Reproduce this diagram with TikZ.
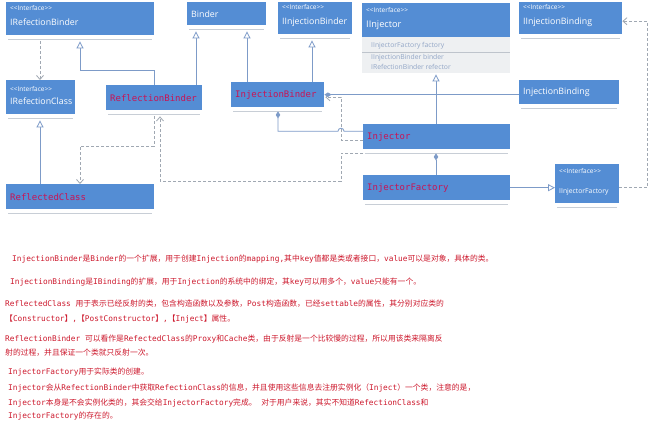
\documentclass[tikz,border=0pt]{standalone}
\usepackage{fontspec}
\setmainfont{Open Sans}
\setmonofont{DejaVu Sans Mono}
\newfontfamily\cjk{Noto Sans CJK SC}
\usetikzlibrary{arrows.meta,calc}
\definecolor{boxblue}{RGB}{84,141,212}
\definecolor{ulinecol}{RGB}{200,206,214}
\definecolor{lineblue}{RGB}{125,155,200}
\definecolor{dashgray}{RGB}{160,168,178}
\definecolor{redtxt}{RGB}{200,20,85}
\definecolor{notered}{RGB}{205,25,45}
\definecolor{graytxt}{RGB}{145,165,198}
\definecolor{grayfill}{RGB}{238,240,242}
\definecolor{sepgray}{RGB}{190,196,204}
\newcommand\zh[1]{{\cjk #1}}
\newcommand\intf{{\fontsize{6.5}{7}\selectfont <{}<Interface>{}>}}
\newcommand\ubox[7]{%
  \node[box, minimum width=#4, minimum height=#5] (#1) at (#2,#3) {};
  \draw[uline] ($(#1.south west)+(2,4)$) -- ($(#1.south east)+(-2,4)$);
  \node[#6] (#1-t) at ($(#1.west)+(4,0)$) {#7};}
\begin{document}
\begin{tikzpicture}[x=1pt,y=-1pt,
  box/.style={fill=boxblue, anchor=north west, inner sep=0pt, draw=none},
  uline/.style={draw=ulinecol, line width=1.6pt},
  itxt/.style={anchor=west, inner sep=0pt, text=white, align=left, font=\fontsize{8.8}{11}\selectfont},
  rtxt/.style={anchor=west, inner sep=0pt, text=redtxt, font=\ttfamily\fontsize{9}{10}\selectfont},
  mtxt/.style={anchor=base west, inner sep=0pt, text=graytxt, font=\fontsize{6.8}{7}\selectfont},
  real/.style={draw=lineblue, line width=0.8pt, -{Triangle[length=7pt, width=7pt, fill=white]}},
  dep/.style={draw=dashgray, line width=0.8pt, dash pattern=on 3pt off 2pt, -{Straight Barb[length=4pt, width=7pt]}},
  comp/.style={draw=lineblue, line width=0.8pt, -{Diamond[length=7pt, width=4.5pt, fill=lineblue]}},
  note/.style={anchor=base west, inner sep=0pt, text=notered, font=\ttfamily\fontsize{7.8}{9}\selectfont}]
\fill[white] (0,0) rectangle (650,426);
\useasboundingbox (0,0) rectangle (650,426);

% boxes
\ubox{irb}{6}{2}{148}{33}{itxt, yshift=3pt}{\intf\\[4pt]IRefectionBinder}
\ubox{bnd}{187}{2}{79}{23}{itxt}{Binder}
\ubox{iib}{278}{2}{74}{32}{itxt, yshift=2.5pt}{\intf\\[4pt]IInjectionBinder}
\ubox{iibg}{519}{2}{103}{32}{itxt, yshift=2.5pt}{\intf\\[4pt]IInjectionBinding}
\ubox{ibg}{519}{80}{100}{24}{itxt}{InjectionBinding}
\ubox{irc}{6}{80}{69}{34}{itxt, yshift=2pt}{\intf\\[2pt]IRefectionClass}
\ubox{rb}{106}{85}{96}{25}{rtxt}{ReflectionBinder}
\ubox{ib}{231}{82}{93}{25}{rtxt}{InjectionBinder}
\ubox{inj}{363}{124}{147}{25}{rtxt}{Injector}
\ubox{injf}{363}{175}{147}{25}{rtxt}{InjectorFactory}
\ubox{rc}{6}{184}{148}{25}{rtxt}{ReflectedClass}
\ubox{iif}{555}{164}{64}{39}{itxt, yshift=1.5pt, font=\fontsize{6.8}{8}\selectfont}{\intf\\[12pt]IInjectorFactory}

% IInjector with member compartment
\node[box, minimum width=148, minimum height=34] (iinj) at (362,3) {};
\node[box, fill=grayfill, minimum width=148, minimum height=36] (iinjg) at (362,37) {};
\draw[sepgray, line width=0.6pt] ($(iinjg.north west)+(0,15)$) -- ($(iinjg.north east)+(0,15)$);
\node[itxt, yshift=1.5pt, font=\fontsize{9.2}{11}\selectfont] (iinj-t) at ($(iinj.west)+(4,0)$) {\intf\\[4pt]IInjector};
\node[mtxt] (m1) at (371,47.5) {IInjectorFactory factory};
\node[mtxt] (m2) at (371,59.5) {IInjectionBinder binder};
\node[mtxt] (m3) at (371,69) {IRefectionBinder refector};

% connectors
\draw[dep] ($(irb.south west)+(34,6)$) -- ($(irc.north west)+(34,0)$);
\draw[real] ($(rb.north west)+(48,0)$) -- ++(0,-15) -| ($(irb.south west)+(74,6)$);
\draw[real] ($(rb.north west)+(90,0)$) -- ($(bnd.south west)+(9,6)$);
\draw[real] ($(ib.north west)+(16,0)$) -- ($(bnd.south west)+(60,6)$);
\draw[real] ($(ib.north west)+(81,0)$) -- ($(iib.south west)+(34,6)$);
\draw[real] ($(rc.north west)+(34,0)$) -- ($(irc.south west)+(34,6)$);
\draw[dep] ($(rb.south west)+(48,6)$) -- ++(0,30) -| ($(rc.north west)+(74,0)$);
\draw[dep] ($(inj.south west)+(0,4)$) -- ++(-22,0) -- ++(0,28) -| ($(rb.south west)+(54,6)$);
\draw[dep] ($(inj.west)+(0,3.5)$) -- ++(-22,0) |- ($(ib.east)+(1,2.5)$);
\draw[comp] ($(inj.west)+(0,-5.5)$) -- ++(-19,0) arc[start angle=0, end angle=-180, radius=3] -| ($(ib.south west)+(47,4)$);
\draw[comp] (ibg.west |- ib.east) -- (ib.east);
\draw[real] ($(inj.north west)+(73,0)$) -- ($(iinjg.south west)+(74,1)$);
\draw[comp] ($(injf.north west)+(73,0)$) -- ($(inj.south west)+(73,4)$);
\draw[real] (injf.east) -- (injf.east -| iif.west);
\draw[dep] ($(iif.east)+(0,4)$) -- ++(28,0) |- ($(iibg.east)+(0,3)$);

% notes
\node[note] (n1) at (12,261) {InjectionBinder\zh{是}Binder\zh{的一个扩展，用于创建}Injection\zh{的}mapping,\zh{其中}key\zh{值都是类或者接口，}value\zh{可以是对象，具体的类。}};
\node[note] (n2) at (10,284) {InjectionBinding\zh{是}IBinding\zh{的扩展，用于}Injection\zh{的系统中的绑定，其}key\zh{可以用多个，}value\zh{只能有一个。}};
\node[note] (n3) at (5,306) {ReflectedClass \zh{用于表示已经反射的类，包含构造函数以及参数，}Post\zh{构造函数，已经}settable\zh{的属性，其分别对应类的}};
\node[note] (n4) at (5,321) {\zh{【}Constructor\zh{】},\zh{【}PostConstructor\zh{】},\zh{【}Inject\zh{】属性。}};
\node[note] (n5) at (5,341) {ReflectionBinder \zh{可以看作是}RefectedClass\zh{的}Proxy\zh{和}Cache\zh{类，由于反射是一个比较慢的过程，所以用该类来隔离反}};
\node[note] (n6) at (5,355) {\zh{射的过程，并且保证一个类就只反射一次。}};
\node[note] (n7) at (8,374) {InjectorFactory\zh{用于实际类的创建。}};
\node[note] (n8) at (8,390) {Injector\zh{会从}RefectionBinder\zh{中获取}RefectionClass\zh{的信息，并且使用这些信息去注册实例化（}Inject\zh{）一个类，注意的是，}};
\node[note] (n9) at (8,405) {Injector\zh{本身是不会实例化类的，其会交给}InjectorFactory\zh{完成。} \zh{对于用户来说，其实不知道}RefectionClass\zh{和}};
\node[note] (n10) at (8,418) {InjectorFactory\zh{的存在的。}};
\end{tikzpicture}
\end{document}
